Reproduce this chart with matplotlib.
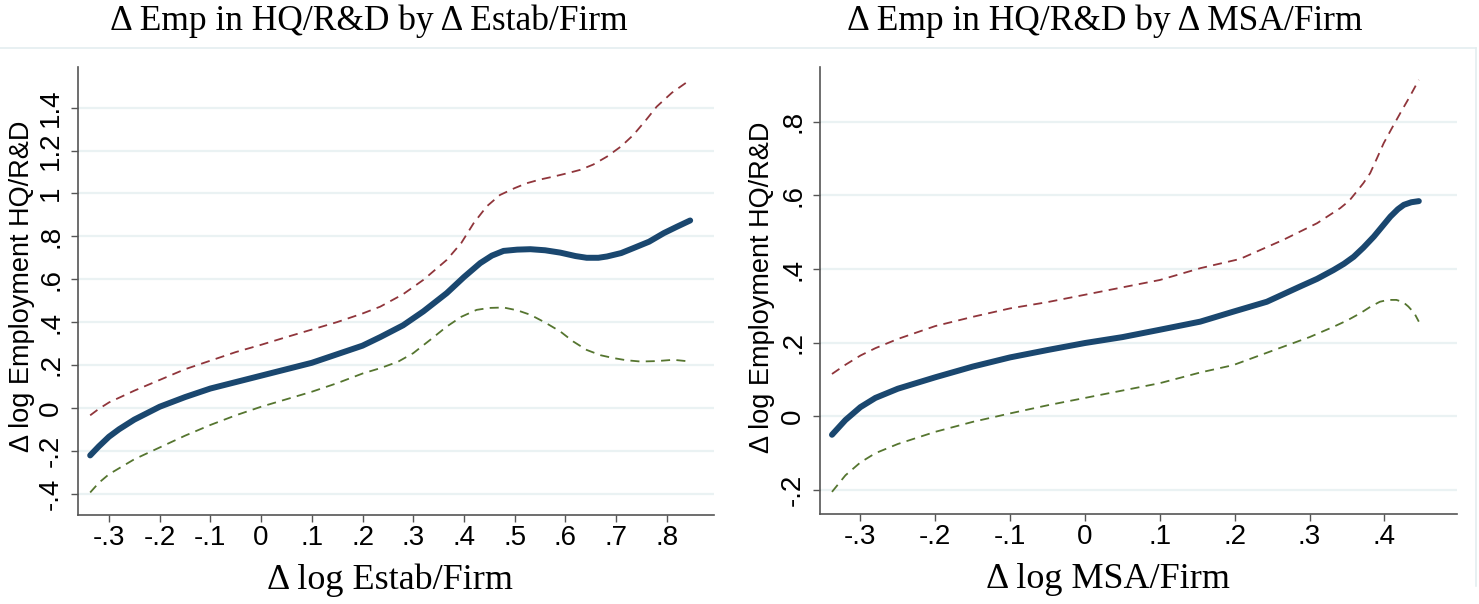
import matplotlib
matplotlib.use("Agg")
import matplotlib.pyplot as plt
from matplotlib.lines import Line2D
from matplotlib.ticker import FuncFormatter

# --- left panel: change in estab/firm ---
estab_x = [-0.337, -0.32, -0.30, -0.28, -0.25, -0.20, -0.15, -0.10, -0.05, 0.0, 0.05, 0.10, 0.15,
           0.20, 0.235, 0.28, 0.32, 0.366, 0.40, 0.432, 0.455, 0.478, 0.505, 0.531, 0.56, 0.59,
           0.62, 0.642, 0.665, 0.682, 0.71, 0.734, 0.765, 0.794, 0.82, 0.846]
estab_fit = [-0.222, -0.18, -0.135, -0.10, -0.055, 0.005, 0.05, 0.09, 0.12, 0.15, 0.18, 0.21, 0.25,
             0.29, 0.33, 0.385, 0.45, 0.535, 0.61, 0.675, 0.71, 0.732, 0.738, 0.74, 0.735, 0.724,
             0.708, 0.70, 0.70, 0.706, 0.722, 0.745, 0.775, 0.815, 0.845, 0.874]

estab_hi_x = [-0.337, -0.32, -0.30, -0.25, -0.20, -0.15, -0.10, -0.05, 0.0, 0.05, 0.10, 0.15, 0.20,
              0.235, 0.28, 0.32, 0.366, 0.395, 0.419, 0.445, 0.471, 0.50, 0.524, 0.55, 0.577, 0.605,
              0.629, 0.655, 0.682, 0.71, 0.734, 0.758, 0.78, 0.81, 0.846]
estab_hi = [-0.035, -0.005, 0.025, 0.08, 0.13, 0.18, 0.22, 0.26, 0.294, 0.33, 0.365, 0.40, 0.44,
            0.472, 0.53, 0.597, 0.69, 0.77, 0.861, 0.94, 0.993, 1.025, 1.048, 1.065, 1.079, 1.095,
            1.11, 1.135, 1.172, 1.22, 1.273, 1.34, 1.405, 1.47, 1.53]

estab_lo_x = [-0.337, -0.32, -0.30, -0.25, -0.20, -0.15, -0.10, -0.05, 0.0, 0.05, 0.10, 0.15, 0.20,
              0.235, 0.27, 0.30, 0.335, 0.366, 0.395, 0.425, 0.45, 0.478, 0.505, 0.531, 0.56, 0.59,
              0.615, 0.642, 0.67, 0.695, 0.72, 0.748, 0.78, 0.813, 0.83, 0.846]
estab_lo = [-0.395, -0.35, -0.31, -0.24, -0.185, -0.13, -0.08, -0.035, 0.005, 0.04, 0.075, 0.115,
            0.16, 0.185, 0.215, 0.255, 0.32, 0.379, 0.425, 0.457, 0.466, 0.468, 0.455, 0.434, 0.398,
            0.356, 0.31, 0.27, 0.245, 0.232, 0.222, 0.216, 0.218, 0.224, 0.22, 0.216]

# --- right panel: change in MSA/firm ---
msa_x = [-0.338, -0.32, -0.30, -0.28, -0.25, -0.20, -0.15, -0.10, -0.05, 0.0, 0.05, 0.10, 0.154,
         0.198, 0.243, 0.287, 0.31, 0.332, 0.346, 0.359, 0.372, 0.386, 0.397, 0.408, 0.418, 0.426,
         0.436, 0.446]
msa_fit = [-0.05, -0.01, 0.025, 0.05, 0.075, 0.106, 0.135, 0.16, 0.18, 0.199, 0.215, 0.235, 0.257,
           0.284, 0.311, 0.352, 0.373, 0.397, 0.414, 0.433, 0.458, 0.488, 0.515, 0.542, 0.562, 0.574,
           0.581, 0.584]

msa_hi_x = [-0.338, -0.32, -0.30, -0.28, -0.25, -0.20, -0.15, -0.10, -0.05, 0.0, 0.05, 0.10, 0.154,
            0.207, 0.265, 0.31, 0.341, 0.353, 0.363, 0.372, 0.381, 0.39, 0.399, 0.41, 0.421, 0.434,
            0.446]
msa_hi = [0.115, 0.14, 0.165, 0.185, 0.21, 0.245, 0.27, 0.293, 0.31, 0.33, 0.35, 0.37, 0.402, 0.427,
          0.479, 0.524, 0.565, 0.585, 0.61, 0.633, 0.66, 0.70, 0.741, 0.782, 0.822, 0.868, 0.913]

msa_lo_x = [-0.338, -0.32, -0.30, -0.28, -0.25, -0.20, -0.15, -0.10, -0.05, 0.0, 0.05, 0.10, 0.154,
            0.198, 0.265, 0.30, 0.332, 0.35, 0.368, 0.381, 0.394, 0.405, 0.416, 0.425, 0.432, 0.44,
            0.446]
msa_lo = [-0.205, -0.16, -0.125, -0.10, -0.075, -0.042, -0.015, 0.008, 0.03, 0.05, 0.07, 0.09, 0.119,
          0.139, 0.189, 0.215, 0.243, 0.26, 0.28, 0.297, 0.311, 0.316, 0.316, 0.31, 0.298, 0.28,
          0.257]

estab_xticks = [-0.3, -0.2, -0.1, 0, 0.1, 0.2, 0.3, 0.4, 0.5, 0.6, 0.7, 0.8]
estab_yticks = [-0.4, -0.2, 0, 0.2, 0.4, 0.6, 0.8, 1.0, 1.2, 1.4]
msa_xticks = [-0.3, -0.2, -0.1, 0, 0.1, 0.2, 0.3, 0.4]
msa_yticks = [-0.2, 0, 0.2, 0.4, 0.6, 0.8]

navy = '#1a476f'
maroon = '#90353b'
green = '#55752f'
grid_col = '#eaf2f3'
axis_col = '#555555'


def stata_fmt(v, pos=None):
    # Stata drops the leading zero: .2, -.4, 1.2
    s = ('%.1f' % v).rstrip('0').rstrip('.')
    if s in ('-0', ''):
        s = '0'
    if s.startswith('0.'):
        s = s[1:]
    return s.replace('-0.', '-.')


W, H = 1479, 604
fig = plt.figure(figsize=(W / 100, H / 100), dpi=100)
fig.patch.set_facecolor('white')


def px_axes(x0, y0, x1, y1):
    return fig.add_axes([x0 / W, 1 - y1 / H, (x1 - x0) / W, (y1 - y0) / H])


def style(ax, xticks, yticks, xlim, ylim):
    ax.set_xlim(*xlim)
    ax.set_ylim(*ylim)
    ax.set_xticks(xticks)
    ax.set_yticks(yticks)
    ax.xaxis.set_major_formatter(FuncFormatter(stata_fmt))
    ax.yaxis.set_major_formatter(FuncFormatter(stata_fmt))
    for s in ['top', 'right']:
        ax.spines[s].set_visible(False)
    for s in ['left', 'bottom']:
        ax.spines[s].set_color(axis_col)
        ax.spines[s].set_linewidth(1.2)
    ax.tick_params(direction='out', length=5, width=1.0, color=axis_col,
                   labelsize=20, labelcolor='black')
    ax.tick_params(axis='x', pad=2)
    ax.tick_params(axis='y', pad=5)
    for lab in ax.get_xticklabels() + ax.get_yticklabels():
        lab.set_fontfamily('Liberation Sans')
    for lab in ax.get_yticklabels():
        lab.set_rotation(90)
        lab.set_va('center')
    ax.yaxis.grid(True, color=grid_col, lw=1.6)
    ax.set_axisbelow(True)


def draw(ax, fx, fy, hx, hy, lx, ly):
    ax.plot(hx, hy, color=maroon, lw=1.3, ls=(0, (5, 3.5)))
    ax.plot(lx, ly, color=green, lw=1.3, ls=(0, (5, 3.5)))
    ax.plot(fx, fy, color=navy, lw=4.3, solid_capstyle='round', solid_joinstyle='round')


ax1 = px_axes(78, 67, 714, 515)
draw(ax1, estab_x, estab_fit, estab_hi_x, estab_hi, estab_lo_x, estab_lo)
style(ax1, estab_xticks, estab_yticks, (-0.361, 0.893), (-0.5, 1.59))

ax2 = px_axes(820, 67, 1457, 514)
draw(ax2, msa_x, msa_fit, msa_hi_x, msa_hi, msa_lo_x, msa_lo)
style(ax2, msa_xticks, msa_yticks, (-0.354, 0.497), (-0.265, 0.948))

serif = 'Liberation Serif'
sans = 'Liberation Sans'

fig.text(369 / W, 1 - 21 / H, '\u0394 Emp in HQ/R&D by \u0394 Estab/Firm', ha='center', va='center',
         fontsize=25.5, family=serif)
fig.text(1105 / W, 1 - 21 / H, '\u0394 Emp in HQ/R&D by \u0394 MSA/Firm', ha='center', va='center',
         fontsize=25.5, family=serif)

fig.text(390 / W, 1 - 580 / H, '\u0394 log Estab/Firm', ha='center', va='center', fontsize=26, family=serif)
fig.text(1108 / W, 1 - 580 / H, '\u0394 log MSA/Firm', ha='center', va='center', fontsize=26, family=serif)

fig.text(22 / W, 1 - 286 / H, '\u0394 log Employment HQ/R&D', ha='center', va='center', rotation=90,
         fontsize=19.5, family=sans)
fig.text(762 / W, 1 - 287 / H, '\u0394 log Employment HQ/R&D', ha='center', va='center', rotation=90,
         fontsize=19.5, family=sans)

# faint outer frame of the graph region
fig.add_artist(Line2D([0, 1476 / W], [1 - 48 / H, 1 - 48 / H], color='#e4eef0', lw=1.2))
fig.add_artist(Line2D([1476 / W, 1476 / W], [1 - 48 / H, 1 - 586 / H], color='#e4eef0', lw=1.2))

fig.savefig('out.png', dpi=100)
